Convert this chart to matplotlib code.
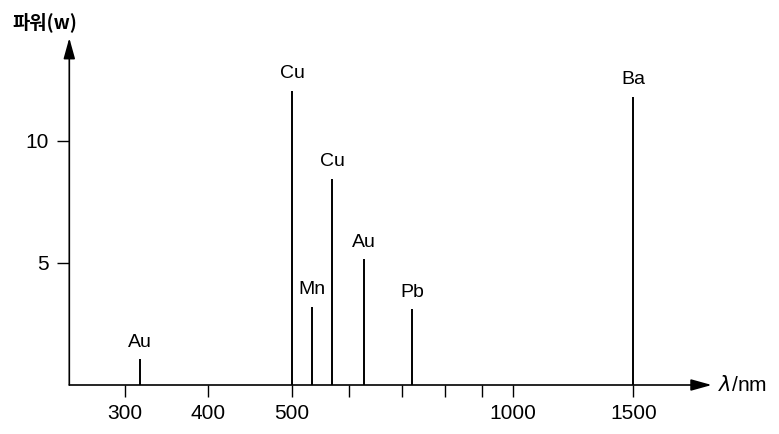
import numpy as np
import matplotlib
matplotlib.use("Agg")
import matplotlib.pyplot as plt
import matplotlib as mpl

mpl.rc("font", family=["Liberation Sans", "Noto Sans CJK KR", "DejaVu Sans"], size=14)

# ----- data -----
elements = ["Au", "Cu", "Mn", "Cu", "Au", "Pb", "Ba"]
wavelengths = [318, 500, 535, 571, 628, 723, 1500]
powers = [1.05, 12.05, 3.2, 8.45, 5.15, 3.1, 11.8]

tick_values = [300, 400, 500, 600, 700, 800, 900, 1000, 1500]
tick_labels = ["300", "400", "500", "", "", "", "", "1000", "1500"]
ytick_values = [5, 10]

# ----- hand-drawn (non-uniform) wavelength axis -----
# anchor wavelengths and their relative positions along the axis
scale_wl = np.array([233, 300, 400, 500, 600, 700, 800, 900, 1000, 1500, 1825], dtype=float)
scale_pos = np.array([69.3, 125, 208.3, 292, 348.6, 402.2, 445.4, 481.6, 513, 633.3, 711.7])


def forward(x):
    return np.interp(x, scale_wl, scale_pos, left=np.nan, right=np.nan)


def inverse(p):
    return np.interp(p, scale_pos, scale_wl)


W, H = 779, 434
fig = plt.figure(figsize=(W / 100, H / 100), dpi=100)
ax = fig.add_axes([69.3 / W, (H - 385) / H, (711.7 - 69.3) / W, (385 - 38) / H])

ax.set_xscale("function", functions=(forward, inverse))
ax.set_xlim(233, 1825)
ax.set_ylim(0, 14.2)

ax.vlines(wavelengths, 0, powers, color="black", linewidth=1.4)
for name, wl, p in zip(elements, wavelengths, powers):
    ax.annotate(name, (wl, p), xytext=(0, 6), textcoords="offset points",
                ha="center", va="bottom", fontsize=14)

for s in ax.spines.values():
    s.set_visible(False)

arrow = dict(arrowstyle="-|>,head_length=0.9,head_width=0.25", color="black",
             linewidth=1.2, shrinkA=0, shrinkB=0)
ax.annotate("", xy=(1, 0), xytext=(0, 0), xycoords="axes fraction", arrowprops=arrow)
ax.annotate("", xy=(0, 1), xytext=(0, 0), xycoords="axes fraction", arrowprops=arrow)

ax.set_xticks(tick_values)
ax.set_xticklabels(tick_labels)
ax.set_yticks(ytick_values)
ax.xaxis.set_minor_locator(mpl.ticker.NullLocator())
ax.tick_params(axis="both", direction="out", length=8.5, width=1.0, labelsize=15)
ax.tick_params(axis="x", pad=5)
ax.tick_params(axis="y", pad=6)

ax.text(1.01, 0, r"$\lambda$/nm", transform=ax.transAxes, ha="left", va="center", fontsize=15)
fig.text(45 / W, 1 - 22 / H, "파워(w)", ha="center", va="center", fontsize=13.5,
         family=["Noto Sans CJK KR", "DejaVu Sans"], fontweight="bold")

fig.savefig("out.png", dpi=100)
